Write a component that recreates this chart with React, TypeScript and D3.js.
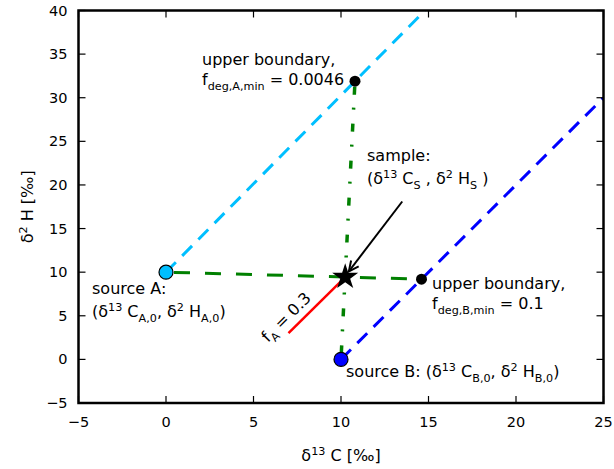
import React from "react";
import * as d3 from "d3";

// axis ticks
const xTicks = [-5, 0, 5, 10, 15, 20, 25];
const yTicks = [-5, 0, 5, 10, 15, 20, 25, 30, 35, 40];

// end members / points
const sourceA: [number, number] = [0, 10];
const sourceB: [number, number] = [10, 0];
const upperA: [number, number] = [10.8, 31.9];
const upperB: [number, number] = [14.6, 9.2];
const sample: [number, number] = [10.24, 9.44];

// lines
const degLineA: [number, number][] = [[0, 10], [14.8, 40]];
const degLineB: [number, number][] = [[10, 0], [25, 30]];
const mixA: [number, number][] = [sourceA, upperB];
const mixB: [number, number][] = [sourceB, upperA];
const fALine: [number, number][] = [[7.0, 3.0], sample];
const arrowPts: [number, number][] = [[13.5, 18.1], [10.45, 10.1]];

type Seg = { t: string; sub?: boolean; sup?: boolean };

const FONT = "DejaVu Sans, sans-serif";

function Rich({ x, y, segs, size = 16, transform }: { x: number; y: number; segs: Seg[]; size?: number; transform?: string }) {
  let cur = 0;
  const small = size * 0.7;
  return (
    <text x={x} y={y} fontFamily={FONT} fontSize={size} fill="#000" transform={transform} style={{ whiteSpace: "pre" }}>
      {segs.map((s, i) => {
        const target = s.sub ? 4.5 : s.sup ? -6.5 : 0;
        const dy = target - cur;
        cur = target;
        return (
          <tspan key={i} dy={dy} fontSize={s.sub || s.sup ? small : size}>
            {s.t}
          </tspan>
        );
      })}
    </text>
  );
}

export default function App() {
  const W = 614, H = 469;
  const m = { l: 78.5, r: 10.5, t: 10.5, b: 66 };
  const x = d3.scaleLinear().domain([-5, 25]).range([m.l, W - m.r]);
  const y = d3.scaleLinear().domain([-5, 40]).range([H - m.b, m.t]);
  const line = d3.line<[number, number]>().x(d => x(d[0])).y(d => y(d[1]));
  const star = d3.symbol().type(d3.symbolStar).size(210)();

  const [ax0, ay0] = [x(arrowPts[0][0]), y(arrowPts[0][1])];
  const [ax1, ay1] = [x(arrowPts[1][0]), y(arrowPts[1][1])];
  const ang = Math.atan2(ay1 - ay0, ax1 - ax0);
  const hl = 11, ha = Math.PI / 7;
  const head = `M${ax1 - hl * Math.cos(ang - ha)},${ay1 - hl * Math.sin(ang - ha)}L${ax1},${ay1}L${ax1 - hl * Math.cos(ang + ha)},${ay1 - hl * Math.sin(ang + ha)}`;

  const tl = 7;
  const px0 = x(-5), px1 = x(25), py0 = y(-5), py1 = y(40);

  return (
    <svg width={W} height={H} style={{ position: "absolute", left: 0, top: 0, background: "#fff" }}>
      <defs>
        <clipPath id="clip">
          <rect x={px0} y={py1} width={px1 - px0} height={py0 - py1} />
        </clipPath>
      </defs>

      <g clipPath="url(#clip)">
        <path d={line(degLineA)!} stroke="#00bfff" strokeWidth={3} fill="none" strokeDasharray="14,9" />
        <path d={line(degLineB)!} stroke="#0000ff" strokeWidth={3} fill="none" strokeDasharray="14,9" />
        <path d={line(mixA)!} stroke="#008000" strokeWidth={3} fill="none" strokeDasharray="16,15" strokeDashoffset={-8} />
        <path d={line(mixB)!} stroke="#008000" strokeWidth={3.5} fill="none" strokeDasharray="8,14,2,13" strokeDashoffset={-6} />
        <path d={line(fALine)!} stroke="#ff0000" strokeWidth={2.5} fill="none" />
        <line x1={ax0} y1={ay0} x2={ax1} y2={ay1} stroke="#000" strokeWidth={2} />
        <path d={head} stroke="#000" strokeWidth={2} fill="none" />

        <circle cx={x(sourceA[0])} cy={y(sourceA[1])} r={7} fill="#00bfff" stroke="#000" strokeWidth={1.2} />
        <circle cx={x(sourceB[0])} cy={y(sourceB[1])} r={7} fill="#0000ff" stroke="#000" strokeWidth={1.2} />
        <circle cx={x(upperA[0])} cy={y(upperA[1])} r={5.5} fill="#000" />
        <circle cx={x(upperB[0])} cy={y(upperB[1])} r={5.5} fill="#000" />
        <path d={star!} transform={`translate(${x(sample[0])},${y(sample[1])})`} fill="#000" />
      </g>

      {/* frame & ticks */}
      <rect x={px0} y={py1} width={px1 - px0} height={py0 - py1} fill="none" stroke="#000" strokeWidth={2.5} />
      {xTicks.map(t => (
        <g key={"x" + t}>
          <line x1={x(t)} x2={x(t)} y1={py0} y2={py0 - tl} stroke="#000" strokeWidth={1.2} />
          <line x1={x(t)} x2={x(t)} y1={py1} y2={py1 + tl} stroke="#000" strokeWidth={1.2} />
          <text x={x(t)} y={py0 + 24} textAnchor="middle" fontFamily={FONT} fontSize={14.5}>{t < 0 ? "\u2212" + Math.abs(t) : t}</text>
        </g>
      ))}
      {yTicks.map(t => (
        <g key={"y" + t}>
          <line x1={px0} x2={px0 + tl} y1={y(t)} y2={y(t)} stroke="#000" strokeWidth={1.2} />
          <line x1={px1} x2={px1 - tl} y1={y(t)} y2={y(t)} stroke="#000" strokeWidth={1.2} />
          <text x={px0 - 11} y={y(t) + 5} textAnchor="end" fontFamily={FONT} fontSize={14.5}>{t < 0 ? "\u2212" + Math.abs(t) : t}</text>
        </g>
      ))}

      {/* axis labels */}
      <text x={(px0 + px1) / 2} y={461} textAnchor="middle" fontFamily={FONT} fontSize={16} style={{ whiteSpace: "pre" }}>
        <tspan>δ</tspan><tspan dy={-6.5} fontSize={11.2}>13</tspan><tspan dy={6.5}> C [‰]</tspan>
      </text>
      <text transform={`translate(33,${(py0 + py1) / 2}) rotate(-90)`} textAnchor="middle" fontFamily={FONT} fontSize={16} style={{ whiteSpace: "pre" }}>
        <tspan>δ</tspan><tspan dy={-6.5} fontSize={11.2}>2</tspan><tspan dy={6.5}> H [‰]</tspan>
      </text>

      {/* annotations */}
      <Rich x={202} y={65} segs={[{ t: "upper boundary," }]} />
      <Rich x={202} y={85} segs={[{ t: "f" }, { t: "deg,A,min", sub: true }, { t: " = 0.0046" }]} />

      <Rich x={367} y={161} segs={[{ t: "sample:" }]} />
      <Rich x={367} y={184} segs={[{ t: "(δ" }, { t: "13", sup: true }, { t: " C" }, { t: "S", sub: true }, { t: " , δ" }, { t: "2", sup: true }, { t: " H" }, { t: "S", sub: true }, { t: " )" }]} />

      <Rich x={92} y={294} segs={[{ t: "source A:" }]} />
      <Rich x={92} y={317} segs={[{ t: "(δ" }, { t: "13", sup: true }, { t: " C" }, { t: "A,0", sub: true }, { t: ", δ" }, { t: "2", sup: true }, { t: " H" }, { t: "A,0", sub: true }, { t: ")" }]} />

      <Rich x={432} y={289} segs={[{ t: "upper boundary," }]} />
      <Rich x={432} y={309} segs={[{ t: "f" }, { t: "deg,B,min", sub: true }, { t: " = 0.1" }]} />

      <Rich x={346} y={377} segs={[{ t: "source B: (δ" }, { t: "13", sup: true }, { t: " C" }, { t: "B,0", sub: true }, { t: ", δ" }, { t: "2", sup: true }, { t: " H" }, { t: "B,0", sub: true }, { t: ")" }]} />

      <Rich x={0} y={0} transform="translate(268,343) rotate(-45)" segs={[{ t: "f" }, { t: "A", sub: true }, { t: " = 0.3" }]} />
    </svg>
  );
}
